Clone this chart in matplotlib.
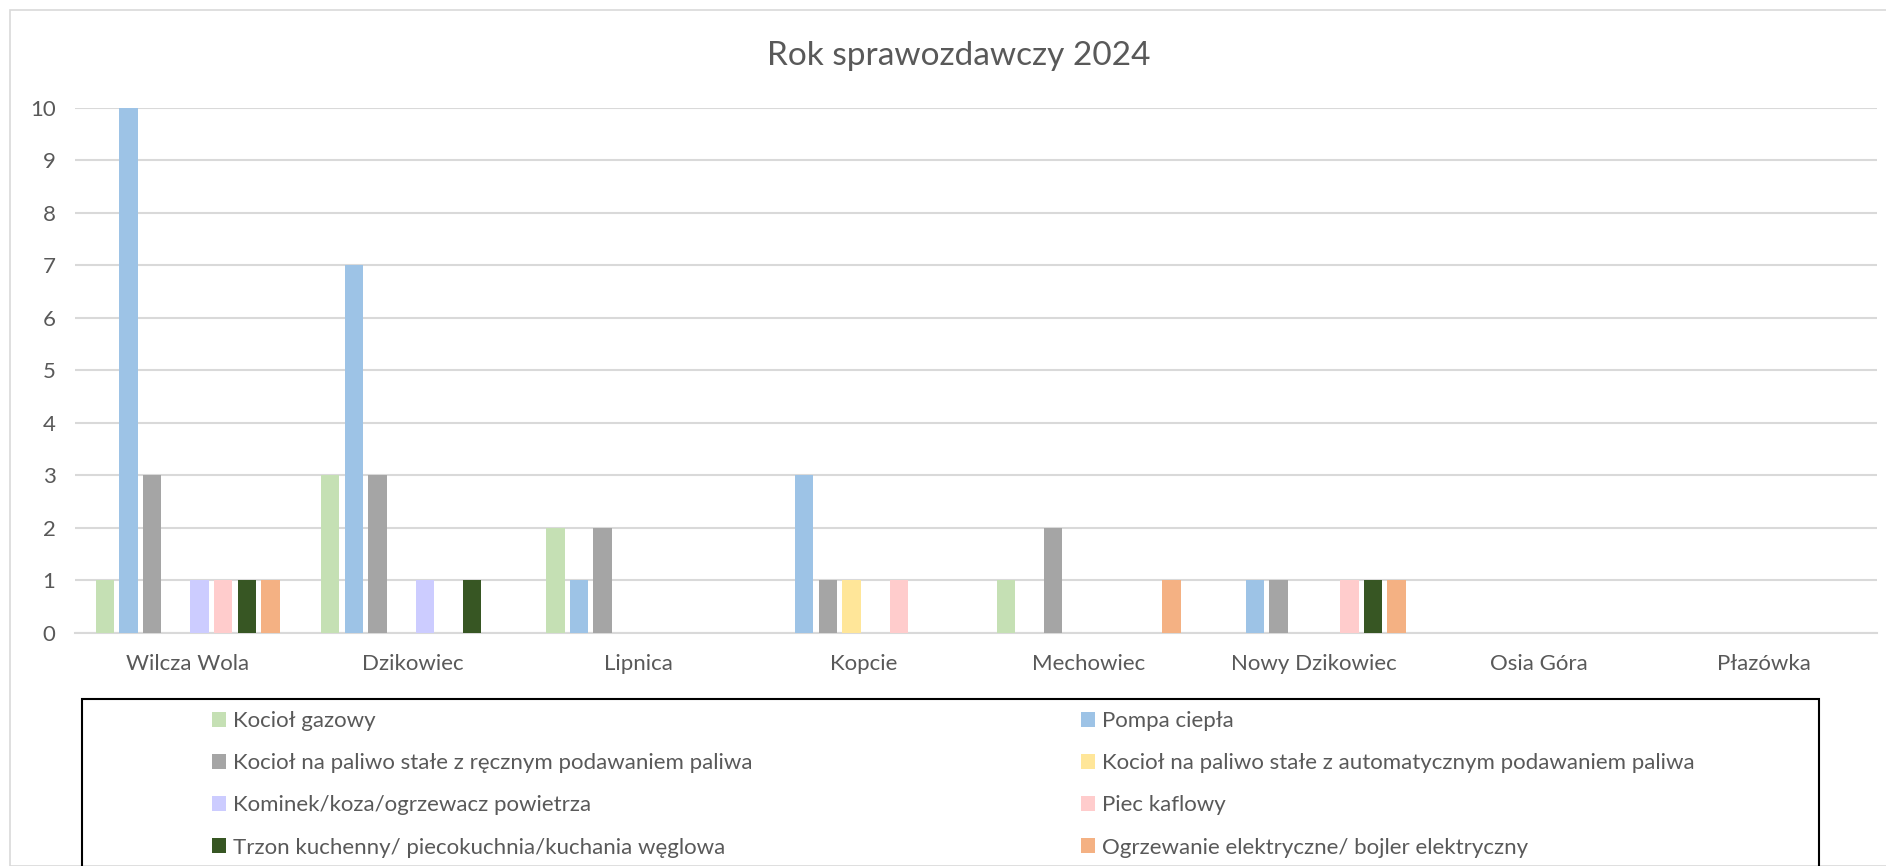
import matplotlib
matplotlib.use("Agg")
import matplotlib.pyplot as plt
import numpy as np
from matplotlib.patches import Rectangle

plt.rcParams['font.family'] = ['Lato', 'DejaVu Sans']

categories = ["Wilcza Wola", "Dzikowiec", "Lipnica", "Kopcie", "Mechowiec",
              "Nowy Dzikowiec", "Osia Góra", "Płazówka"]
series_names = ["Kocioł gazowy", "Pompa ciepła",
                "Kocioł na paliwo stałe z ręcznym podawaniem paliwa",
                "Kocioł na paliwo stałe z automatycznym podawaniem paliwa",
                "Kominek/koza/ogrzewacz powietrza", "Piec kaflowy",
                "Trzon kuchenny/ piecokuchnia/kuchania węglowa",
                "Ogrzewanie elektryczne/ bojler elektryczny"]
kociol_gazowy = [1, 3, 2, 0, 1, 0, 0, 0]
pompa_ciepla = [10, 7, 1, 3, 0, 1, 0, 0]
kociol_reczny = [3, 3, 2, 1, 2, 1, 0, 0]
kociol_auto = [0, 0, 0, 1, 0, 0, 0, 0]
kominek = [1, 1, 0, 0, 0, 0, 0, 0]
piec_kaflowy = [1, 0, 0, 1, 0, 1, 0, 0]
trzon_kuchenny = [1, 1, 0, 0, 0, 1, 0, 0]
ogrzewanie_elektryczne = [1, 0, 0, 0, 1, 1, 0, 0]
values = [kociol_gazowy, pompa_ciepla, kociol_reczny, kociol_auto, kominek,
          piec_kaflowy, trzon_kuchenny, ogrzewanie_elektryczne]
colors = ["#C5E0B4", "#9DC3E6", "#A5A5A5", "#FFE699", "#CCCCFF", "#FFCCCC",
          "#375623", "#F4B183"]
yticks = list(range(0, 11))

W, H = 1886, 866
fig = plt.figure(figsize=(W / 100, H / 100), dpi=100)
fig.patch.set_facecolor("white")
fig.patches.append(Rectangle((10 / W, 0), 1, 1 - 10 / H, transform=fig.transFigure,
                             fill=False, edgecolor="#D9D9D9", linewidth=1.2))

left, right = 75 / W, 1877 / W
bottom, top = 1 - 633 / H, 1 - 107.5 / H
ax = fig.add_axes([left, bottom, right - left, top - bottom])

x = np.arange(len(categories))
pitch = 0.105
width = 0.0815
handles = []
for i, (vals, col, name) in enumerate(zip(values, colors, series_names)):
    b = ax.bar(x + (i - 3.5) * pitch, vals, width=width, color=col, label=name, zorder=3)
    handles.append(b)

ax.set_xlim(-0.5, len(categories) - 0.5)
ax.set_ylim(0, 10)
ax.set_yticks(yticks)
ax.set_xticks(x)
ax.set_xticklabels(categories)
ax.tick_params(axis="both", length=0, labelsize=16, colors="#595959")
ax.tick_params(axis="y", pad=14)
ax.tick_params(axis="x", pad=15)
ax.grid(axis="y", color="#D9D9D9", linewidth=1.5, zorder=0)
for s in ["top", "right", "left"]:
    ax.spines[s].set_visible(False)
ax.spines["bottom"].set_color("#D9D9D9")
ax.spines["bottom"].set_linewidth(1.5)

fig.text(959 / W, 1 - 56 / H, "Rok sprawozdawczy 2024",
         ha="center", va="center", fontsize=24, color="#595959")

# legend box
fig.patches.append(Rectangle((82 / W, -0.1), (1819 - 82) / W, 0.1 + 1 - 699 / H,
                             transform=fig.transFigure, fill=False,
                             edgecolor="black", linewidth=1.5))

common = dict(frameon=False, handlelength=0.65, handleheight=0.65, handletextpad=0.3,
              labelspacing=1.0, fontsize=16, labelcolor="#595959", loc="upper left",
              borderaxespad=0, borderpad=0)
leg1 = fig.legend([handles[i] for i in (0, 2, 4, 6)], [series_names[i] for i in (0, 2, 4, 6)],
                  bbox_to_anchor=(212 / W, 1 - 711 / H), **common)
leg2 = fig.legend([handles[i] for i in (1, 3, 5, 7)], [series_names[i] for i in (1, 3, 5, 7)],
                  bbox_to_anchor=(1081 / W, 1 - 711 / H), **common)

fig.savefig("out.png", dpi=100)
